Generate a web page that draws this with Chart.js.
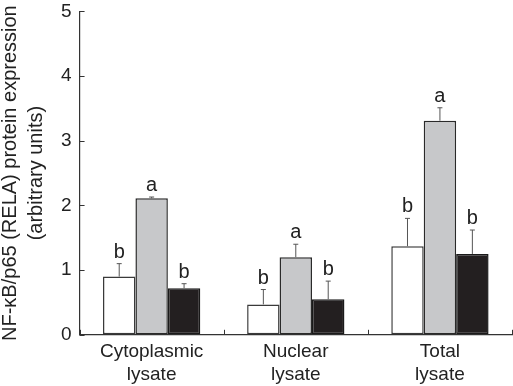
<!DOCTYPE html>
<html><head><meta charset="utf-8">
<script src="https://cdn.jsdelivr.net/npm/chart.js@4"></script>
<style>html,body{margin:0;padding:0;background:#fff}#wrap{width:513px;height:386px;position:relative}</style>
</head><body><div id="wrap"><canvas id="c"></canvas></div>
<script>
const categories = [['Cytoplasmic','lysate'],['Nuclear','lysate'],['Total','lysate']];
const whiteValues = [0.90, 0.47, 1.37];
const greyValues = [2.11, 1.20, 3.31];
const blackValues = [0.72, 0.55, 1.25];
const whiteErrors = [0.20, 0.23, 0.43];
const greyErrors = [0.02, 0.20, 0.20];
const blackErrors = [0.07, 0.28, 0.37];
const whiteLetters = ['b','b','b'];
const greyLetters = ['a','a','a'];
const blackLetters = ['b','b','b'];
const yTicks = [0,1,2,3,4,5];
const yTitle = ['NF-\u03BAB/p65 (RELA) protein expression','(arbitrary units)'];

const FONT = '"Liberation Sans", Arial, Helvetica, sans-serif';
const INK = '#222';
const AXIS = '#333';
const CLEAR = 'rgba(0,0,0,0)';

const errorPlugin = {
  id: 'errorbars',
  afterDatasetsDraw(chart) {
    const ctx = chart.ctx;
    const ys = chart.scales.y;
    chart.data.datasets.forEach((ds, i) => {
      const meta = chart.getDatasetMeta(i);
      meta.data.forEach((el, j) => {
        const v = ds.data[j];
        const top = ys.getPixelForValue(v + ds.errors[j]);
        ctx.save();
        ctx.strokeStyle = '#555';
        ctx.lineWidth = 1;
        ctx.beginPath();
        ctx.moveTo(el.x, el.y);
        ctx.lineTo(el.x, top);
        ctx.moveTo(el.x - 2.5, top);
        ctx.lineTo(el.x + 2.5, top);
        ctx.stroke();
        ctx.fillStyle = INK;
        ctx.font = '20px ' + FONT;
        ctx.textAlign = 'center';
        ctx.textBaseline = 'alphabetic';
        ctx.fillText(ds.letters[j], el.x, top - 6);
        ctx.restore();
      });
    });
  }
};

// inward tick marks on both axes, positioned by the scales
const inwardTicks = {
  id: 'inwardTicks',
  afterDraw(chart) {
    const ctx = chart.ctx;
    const xs = chart.scales.x, ys = chart.scales.y;
    const area = chart.chartArea;
    ctx.save();
    ctx.strokeStyle = AXIS;
    ctx.lineWidth = 1;
    ctx.beginPath();
    yTicks.forEach(v => {
      const py = Math.round(ys.getPixelForValue(v)) + 0.5;
      ctx.moveTo(area.left, py);
      ctx.lineTo(area.left + 5, py);
    });
    for (let i = 0; i <= categories.length; i++) {
      const px = Math.round(xs.getPixelForValue(i - 0.5)) + 0.5;
      ctx.moveTo(px, area.bottom);
      ctx.lineTo(px, area.bottom - 5);
    }
    ctx.stroke();
    ctx.restore();
  }
};

new Chart(document.getElementById('c'), {
  type: 'bar',
  data: {
    labels: categories,
    datasets: [
      {data: whiteValues, errors: whiteErrors, letters: whiteLetters, backgroundColor: '#ffffff', borderColor: '#3a3a3a', borderWidth: 1.5, borderSkipped: false},
      {data: greyValues, errors: greyErrors, letters: greyLetters, backgroundColor: '#c7c8ca', borderColor: '#2a2a2a', borderWidth: 1.5, borderSkipped: false},
      {data: blackValues, errors: blackErrors, letters: blackLetters, backgroundColor: '#231f20', borderColor: '#1a1a1a', borderWidth: 1.5, borderSkipped: false}
    ]
  },
  options: {
    responsive: true,
    maintainAspectRatio: false,
    animation: false,
    layout: {padding: {top: 0, right: 1, bottom: 0, left: 0}},
    datasets: {bar: {barPercentage: 1, categoryPercentage: 0.675}},
    plugins: {legend: {display: false}, tooltip: {enabled: false}},
    scales: {
      x: {
        offset: true,
        grid: {display: true, offset: true, drawOnChartArea: false, drawTicks: true, tickLength: 5.6, color: CLEAR, tickColor: CLEAR},
        border: {display: true, color: AXIS, width: 1.2},
        ticks: {color: INK, font: {family: FONT, size: 19, lineHeight: 1.2}, padding: 0, maxRotation: 0, autoSkip: false}
      },
      y: {
        min: 0, max: 5,
        afterBuildTicks(scale) { scale.ticks = yTicks.map(v => ({value: v})); },
        grid: {display: true, drawOnChartArea: false, drawTicks: true, tickLength: 8, color: CLEAR, tickColor: CLEAR},
        border: {display: true, color: AXIS, width: 1.2},
        ticks: {color: INK, font: {family: FONT, size: 19}, padding: 0},
        title: {display: true, text: yTitle, color: INK, font: {family: FONT, size: 20, lineHeight: 1.3}, padding: {top: -3, bottom: 12}}
      }
    }
  },
  plugins: [errorPlugin, inwardTicks]
});
</script>
</body></html>
